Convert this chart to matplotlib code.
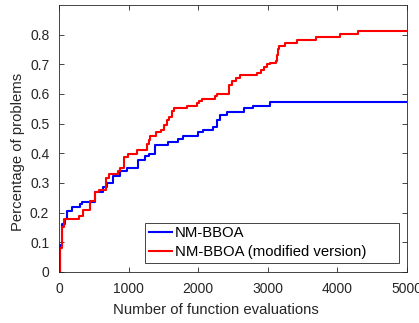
import matplotlib.pyplot as plt

plt.rcParams['font.family'] = ['Liberation Sans', 'DejaVu Sans']

# step breakpoints (x where the value starts)
x_nm = [0, 20, 45, 86, 120, 182, 302, 326, 517, 637, 685, 781, 876, 972,
        1140, 1236, 1300, 1379, 1570, 1715, 1777, 1993, 2065, 2218, 2265,
        2310, 2410, 2658, 2792, 3032, 5000]
y_nm = [0.0, 0.09, 0.16, 0.178, 0.204, 0.218, 0.23, 0.237, 0.271, 0.286,
        0.30, 0.322, 0.339, 0.35, 0.378, 0.392, 0.398, 0.429, 0.438, 0.448,
        0.459, 0.47, 0.479, 0.488, 0.513, 0.53, 0.54, 0.551, 0.56, 0.572,
        0.572]

x_mod = [0, 20, 45, 70, 292, 340, 445, 517, 579, 680, 720, 852, 876, 934,
         996, 1116, 1260, 1265, 1288, 1307, 1394, 1466, 1509, 1547, 1580,
         1620, 1650, 1835, 1980, 2005, 2050, 2240, 2265, 2440, 2490, 2540,
         2600, 2850, 2900, 2950, 2990, 3030, 3120, 3135, 3150, 3160, 3250,
         3415, 3700, 4040, 4300, 5000]
y_mod = [0.0, 0.08, 0.15, 0.178, 0.189, 0.209, 0.24, 0.268, 0.277, 0.316,
         0.331, 0.34, 0.35, 0.387, 0.398, 0.412, 0.417, 0.432, 0.446, 0.459,
         0.47, 0.479, 0.496, 0.511, 0.522, 0.541, 0.551, 0.56, 0.569, 0.575,
         0.583, 0.592, 0.60, 0.631, 0.645, 0.654, 0.662, 0.67, 0.68, 0.69,
         0.70, 0.705, 0.71, 0.73, 0.75, 0.76, 0.772, 0.781, 0.792, 0.802,
         0.811, 0.811]

labels = ['NM-BBOA', 'NM-BBOA (modified version)']

fig = plt.figure(figsize=(4.19, 3.23), dpi=100)
ax = fig.add_axes([0.141, 0.158, 0.830, 0.827])

ax.step(x_nm, y_nm, where='post', color='#0000ff', lw=1.5, label=labels[0])
ax.step(x_mod, y_mod, where='post', color='#ff0000', lw=1.5, label=labels[1])

ax.set_xlim(0, 5000)
ax.set_ylim(0, 0.9)
ax.set_xticks(range(0, 5001, 1000))
ax.set_yticks([0, 0.1, 0.2, 0.3, 0.4, 0.5, 0.6, 0.7, 0.8])
ax.set_yticklabels(['0', '0.1', '0.2', '0.3', '0.4', '0.5', '0.6', '0.7', '0.8'])

dark = '#262626'
ax.tick_params(direction='in', top=True, right=True, length=3.5, width=0.6,
               labelsize=10, colors=dark, pad=7)
for s in ax.spines.values():
    s.set_color(dark)
    s.set_linewidth(0.6)

ax.set_xlabel('Number of function evaluations', fontsize=10.7, color=dark)
ax.set_ylabel('Percentage of problems', fontsize=10.7, color=dark)
ax.xaxis.set_label_coords(0.45, -0.116)
ax.yaxis.set_label_coords(-0.098, 0.448)

leg = ax.legend(loc='lower left', bbox_to_anchor=(0.247, 0.033, 0.731, 0.16),
                mode='expand', borderaxespad=0,
                fancybox=False, framealpha=1, edgecolor=dark, fontsize=10.7,
                handlelength=1.6, handletextpad=0.15, borderpad=0.25,
                labelspacing=0.35)
leg.get_frame().set_linewidth(0.6)

fig.savefig('out.png', dpi=100)
